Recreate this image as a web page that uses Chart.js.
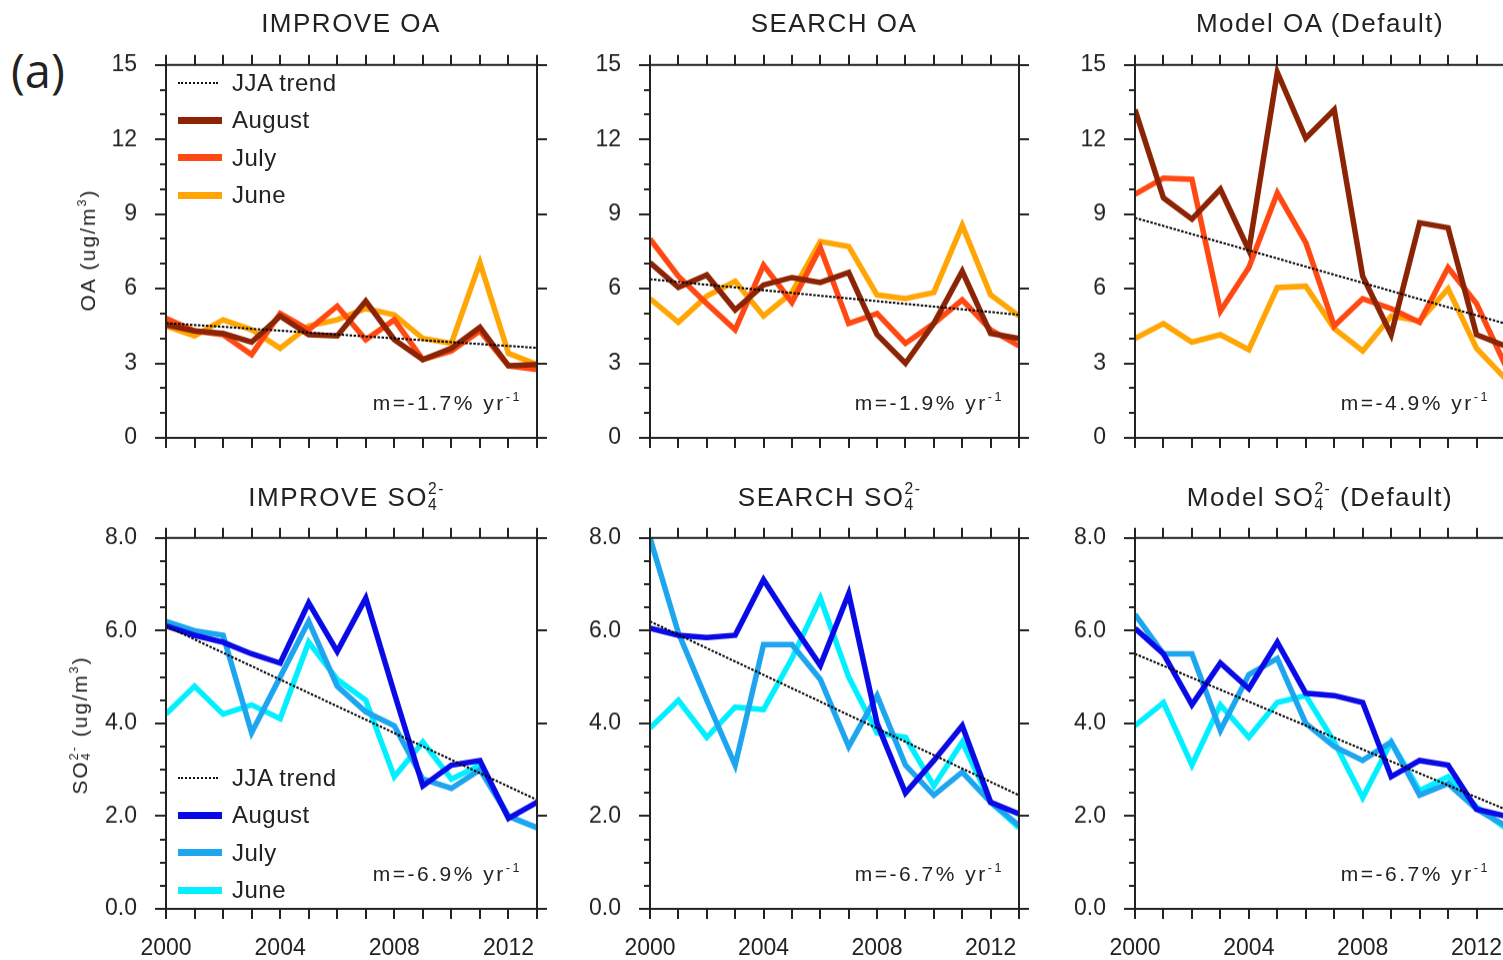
<!DOCTYPE html>
<html>
<head>
<meta charset="utf-8">
<title>Summer OA and SO4 trends</title>
<script src="https://cdn.jsdelivr.net/npm/chart.js@4.4.0/dist/chart.umd.min.js"></script>
<style>
  html, body { margin: 0; padding: 0; background: #fff; }
  body {
    position: relative; width: 1503px; height: 960px; overflow: hidden;
    font-family: "Liberation Sans", Arial, sans-serif; color: #222;
  }
  canvas { position: absolute; }
  .title {
    position: absolute; font-size: 26px; letter-spacing: 1.5px; white-space: nowrap;
    transform: translate(-50%, -50%);
  }
  .ylab {
    position: absolute; font-size: 21px; letter-spacing: 2px; white-space: nowrap;
    transform: translate(-50%, -50%) rotate(-90deg);
  }
  .note {
    position: absolute; font-size: 21px; letter-spacing: 2.5px; white-space: nowrap;
    transform: translate(-100%, -50%);
  }
  .tag {
    position: absolute; left: 11px; top: 40px; font-family: "Open Sans", Lato, sans-serif;
    font-size: 47px; line-height: 60px; color: #222;
  }
  sup, sub { font-size: 0.6em; line-height: 0; }
  sup { vertical-align: 0.75em; }
  sub { vertical-align: -0.25em; }
  .chem sub { display: inline-block; width: 0; overflow: visible; }
  .legend { position: absolute; font-size: 24px; letter-spacing: 0.5px; }
  .legend .row { height: 37.5px; display: flex; align-items: center; white-space: nowrap; }
  .legend .sw { display: inline-block; width: 44px; margin-right: 10px; }
  .legend .sw.solid { height: 7px; }
  .legend .sw.dots { width: 40px; margin-right: 14px; border-top: 2px dotted #111; height: 0; }
</style>
</head>
<body>
<div class="tag">(a)</div>

<canvas id="c-improve-oa"></canvas>
<canvas id="c-search-oa"></canvas>
<canvas id="c-model-oa"></canvas>
<canvas id="c-improve-so4"></canvas>
<canvas id="c-search-so4"></canvas>
<canvas id="c-model-so4"></canvas>

<div class="title" style="left:351px; top:23px">IMPROVE OA</div>
<div class="title" style="left:834px; top:23px">SEARCH OA</div>
<div class="title" style="left:1320px; top:23px">Model OA (Default)</div>
<div class="title chem" style="left:351px; top:497px">IMPROVE SO<sub>4</sub><sup>2-</sup>&nbsp;</div>
<div class="title chem" style="left:834px; top:497px">SEARCH SO<sub>4</sub><sup>2-</sup>&nbsp;</div>
<div class="title chem" style="left:1320px; top:497px">Model SO<sub>4</sub><sup>2-</sup> (Default)</div>

<div class="ylab" style="left:88px; top:250px">OA (ug/m<sup>3</sup>)</div>
<div class="ylab chem" style="left:80px; top:725px">SO<sub>4</sub><sup>2-</sup> (ug/m<sup>3</sup>)</div>

<div id="legend-oa" class="legend" style="left:178px; top:64px"></div>
<div id="legend-so4" class="legend" style="left:178px; top:759px"></div>

<script>
// ---- data ----
const years = [2000, 2001, 2002, 2003, 2004, 2005, 2006, 2007, 2008, 2009, 2010, 2011, 2012, 2013];
const trendYears = [2000, 2013];
const seriesNames = ['August', 'July', 'June'];

// IMPROVE OA (ug/m3)
const improveOaAug = [4.55, 4.3, 4.2, 3.85, 4.9, 4.15, 4.1, 5.5, 3.95, 3.15, 3.6, 4.45, 2.9, 2.95];
const improveOaJul = [4.8, 4.3, 4.15, 3.35, 5.0, 4.35, 5.3, 3.95, 4.75, 3.15, 3.5, 4.3, 2.9, 2.75];
const improveOaJun = [4.5, 4.1, 4.75, 4.35, 3.6, 4.5, 4.75, 5.2, 4.95, 4.0, 3.8, 7.05, 3.4, 2.95];
const improveOaTrend = [4.62, 3.62];

// SEARCH OA
const searchOaAug = [7.05, 6.05, 6.55, 5.15, 6.15, 6.45, 6.25, 6.65, 4.15, 3.0, 4.6, 6.7, 4.2, 4.0];
const searchOaJul = [8.0, 6.5, 5.4, 4.35, 6.95, 5.45, 7.65, 4.6, 5.0, 3.8, 4.6, 5.55, 4.35, 3.7];
const searchOaJun = [5.6, 4.65, 5.7, 6.3, 4.9, 5.85, 7.9, 7.7, 5.75, 5.6, 5.85, 8.55, 5.75, 4.9];
const searchOaTrend = [6.38, 4.95];

// Model OA (Default)
const modelOaAug = [13.2, 9.65, 8.8, 10.0, 7.55, 14.7, 12.05, 13.2, 6.5, 4.15, 8.65, 8.45, 4.15, 3.7];
const modelOaJul = [9.8, 10.45, 10.4, 5.1, 6.85, 9.85, 7.85, 4.5, 5.6, 5.2, 4.65, 6.85, 5.4, 2.95];
const modelOaJun = [4.0, 4.6, 3.85, 4.15, 3.55, 6.05, 6.1, 4.4, 3.5, 4.9, 4.7, 6.0, 3.6, 2.4];
const modelOaTrend = [8.85, 4.6];

// IMPROVE SO4
const improveSo4Aug = [6.1, 5.9, 5.75, 5.5, 5.3, 6.6, 5.55, 6.7, 4.65, 2.65, 3.1, 3.2, 1.95, 2.3];
const improveSo4Jul = [6.2, 6.0, 5.9, 3.8, 5.0, 6.2, 4.8, 4.25, 3.95, 2.8, 2.6, 3.0, 2.0, 1.75];
const improveSo4Jun = [4.2, 4.8, 4.2, 4.4, 4.1, 5.75, 4.95, 4.5, 2.85, 3.6, 2.8, 3.1, 2.0, 1.75];
const improveSo4Trend = [6.1, 2.35];

// SEARCH SO4
const searchSo4Aug = [6.05, 5.9, 5.85, 5.9, 7.1, 6.15, 5.25, 6.8, 4.0, 2.5, 3.2, 3.95, 2.3, 2.05];
const searchSo4Jul = [8.0, 5.95, 4.5, 3.1, 5.7, 5.7, 4.95, 3.5, 4.6, 3.1, 2.45, 2.95, 2.3, 1.8];
const searchSo4Jun = [3.9, 4.5, 3.7, 4.35, 4.3, 5.4, 6.7, 5.0, 3.8, 3.7, 2.65, 3.6, 2.3, 1.75];
const searchSo4Trend = [6.2, 2.45];

// Model SO4 (Default)
const modelSo4Aug = [6.05, 5.5, 4.4, 5.3, 4.75, 5.75, 4.65, 4.6, 4.45, 2.85, 3.2, 3.1, 2.15, 2.0];
const modelSo4Jul = [6.35, 5.5, 5.5, 3.85, 5.05, 5.4, 4.0, 3.5, 3.2, 3.6, 2.45, 2.7, 2.15, 1.8];
const modelSo4Jun = [3.95, 4.45, 3.1, 4.4, 3.7, 4.45, 4.6, 3.6, 2.4, 3.6, 2.55, 2.85, 2.2, 1.75];
const modelSo4Trend = [5.5, 2.15];

const slopeLabels = ['-1.7', '-1.9', '-4.9', '-6.9', '-6.7', '-6.7'];

// ---- styling ----
const oaColors = ['#8b2305', '#ff4812', '#ffa504'];
const so4Colors = ['#0a0ae6', '#1ea5f0', '#00f0ff'];

const Y_W = 80;   // fixed width of the y axis box
const X_H = 60;   // fixed height of the x axis box
const PAD_T = 20;
const PAD_R = 20;

// outward ticks on all four sides plus the frame
const frameTicks = {
  id: 'frameTicks',
  afterDatasetsDraw(chart) {
    const { ctx, chartArea: a, scales: { x, y } } = chart;
    ctx.save();
    ctx.strokeStyle = '#222';
    ctx.lineWidth = 2;
    ctx.strokeRect(a.left, a.top, a.right - a.left, a.bottom - a.top);
    ctx.beginPath();
    x.ticks.forEach(t => {
      const px = Math.round(x.getPixelForValue(t.value));
      ctx.moveTo(px, a.top); ctx.lineTo(px, a.top - 10);
      ctx.moveTo(px, a.bottom); ctx.lineTo(px, a.bottom + 10);
    });
    y.ticks.forEach(t => {
      const py = Math.round(y.getPixelForValue(t.value));
      const major = t.label !== '';
      ctx.moveTo(a.left, py); ctx.lineTo(a.left - (major ? 11 : 6), py);
      if (major) { ctx.moveTo(a.right, py); ctx.lineTo(a.right + 10, py); }
    });
    ctx.stroke();
    ctx.restore();
  }
};

const toPoints = (xs, ys) => xs.map((v, i) => ({ x: v, y: ys[i] }));

function panelConfig(monthly, trend, colors, yCfg, showYears) {
  const datasets = [{
    label: 'JJA trend',
    data: toPoints(trendYears, trend),
    borderColor: '#000',
    borderWidth: 2,
    borderDash: [2.5, 1.5],
    pointRadius: 0
  }];
  monthly.forEach((vals, i) => {
    datasets.push({
      label: seriesNames[i],
      data: toPoints(years, vals),
      borderColor: colors[i],
      borderWidth: 5.5,
      borderJoinStyle: 'miter',
      pointRadius: 0,
      tension: 0
    });
  });

  const tickFont = { family: '"Liberation Sans", Arial, sans-serif', size: 23 };

  return {
    type: 'line',
    data: { datasets },
    plugins: [frameTicks],
    options: {
      responsive: false,
      maintainAspectRatio: false,
      devicePixelRatio: 1,
      animation: false,
      layout: { padding: { top: PAD_T, right: PAD_R, left: 0, bottom: 0 } },
      plugins: { legend: { display: false }, tooltip: { enabled: false } },
      scales: {
        x: {
          type: 'linear',
          min: 2000,
          max: 2013,
          afterFit: s => { s.height = X_H; },
          grid: { display: false, drawTicks: false },
          border: { display: false },
          ticks: {
            stepSize: 1,
            padding: 26,
            color: '#222',
            font: tickFont,
            maxRotation: 0,
            autoSkip: false,
            callback: v => (showYears && v % 4 === 0 ? String(v) : '')
          }
        },
        y: {
          min: 0,
          max: yCfg.max,
          afterFit: s => { s.width = Y_W; },
          grid: { display: false, drawTicks: false },
          border: { display: false },
          ticks: {
            stepSize: yCfg.minor,
            padding: 29,
            color: '#222',
            font: tickFont,
            autoSkip: false,
            callback: v => {
              const r = v / yCfg.major;
              return Math.abs(r - Math.round(r)) < 1e-6 ? v.toFixed(yCfg.digits) : '';
            }
          }
        }
      }
    }
  };
}

function sizeCanvas(canvas, w, h) {
  canvas.width = w; canvas.height = h;
  canvas.style.width = w + 'px'; canvas.style.height = h + 'px';
}

// build once, measure the plot area, then rebuild so the frame lands on box
function makePanel(canvasId, box, monthly, trend, colors, yCfg, showYears) {
  const [L, T, R, B] = box;
  const canvas = document.getElementById(canvasId);
  let w = R - L + Y_W + PAD_R;
  let h = B - T + PAD_T + X_H;
  sizeCanvas(canvas, w, h);
  let chart = new Chart(canvas, panelConfig(monthly, trend, colors, yCfg, showYears));
  const a = chart.chartArea;
  w += (R - L) - (a.right - a.left);
  h += (B - T) - (a.bottom - a.top);
  chart.destroy();
  sizeCanvas(canvas, w, h);
  chart = new Chart(canvas, panelConfig(monthly, trend, colors, yCfg, showYears));
  const a2 = chart.chartArea;
  canvas.style.left = (L - a2.left) + 'px';
  canvas.style.top = (T - a2.top) + 'px';
  return chart;
}

const oaAxis = { max: 15, minor: 1, major: 3, digits: 0 };
const so4Axis = { max: 8, minor: 0.5, major: 2, digits: 1 };

const boxes = [
  [166, 65, 537, 438], [650, 65, 1019, 438], [1135, 65, 1505, 438],
  [166, 538, 537, 909], [650, 538, 1019, 909], [1135, 538, 1505, 909]
];

makePanel('c-improve-oa', boxes[0], [improveOaAug, improveOaJul, improveOaJun], improveOaTrend, oaColors, oaAxis, false);
makePanel('c-search-oa', boxes[1], [searchOaAug, searchOaJul, searchOaJun], searchOaTrend, oaColors, oaAxis, false);
makePanel('c-model-oa', boxes[2], [modelOaAug, modelOaJul, modelOaJun], modelOaTrend, oaColors, oaAxis, false);
makePanel('c-improve-so4', boxes[3], [improveSo4Aug, improveSo4Jul, improveSo4Jun], improveSo4Trend, so4Colors, so4Axis, true);
makePanel('c-search-so4', boxes[4], [searchSo4Aug, searchSo4Jul, searchSo4Jun], searchSo4Trend, so4Colors, so4Axis, true);
makePanel('c-model-so4', boxes[5], [modelSo4Aug, modelSo4Jul, modelSo4Jun], modelSo4Trend, so4Colors, so4Axis, true);

// slope notes in the lower right corner of each panel
boxes.forEach((b, i) => {
  const note = document.createElement('div');
  note.className = 'note';
  note.style.left = (b[2] - 15) + 'px';
  note.style.top = (b[3] - 35) + 'px';
  note.innerHTML = 'm=' + slopeLabels[i] + '% yr<sup>-1</sup>';
  document.body.appendChild(note);
});

// legends
function buildLegend(id, colors) {
  const box = document.getElementById(id);
  const trendRow = document.createElement('div');
  trendRow.className = 'row';
  const dots = document.createElement('span');
  dots.className = 'sw dots';
  trendRow.appendChild(dots);
  trendRow.appendChild(document.createTextNode('JJA trend'));
  box.appendChild(trendRow);
  seriesNames.forEach((name, i) => {
    const row = document.createElement('div');
    row.className = 'row';
    const sw = document.createElement('span');
    sw.className = 'sw solid';
    sw.style.background = colors[i];
    row.appendChild(sw);
    row.appendChild(document.createTextNode(name));
    box.appendChild(row);
  });
}
buildLegend('legend-oa', oaColors);
buildLegend('legend-so4', so4Colors);
</script>
</body>
</html>
